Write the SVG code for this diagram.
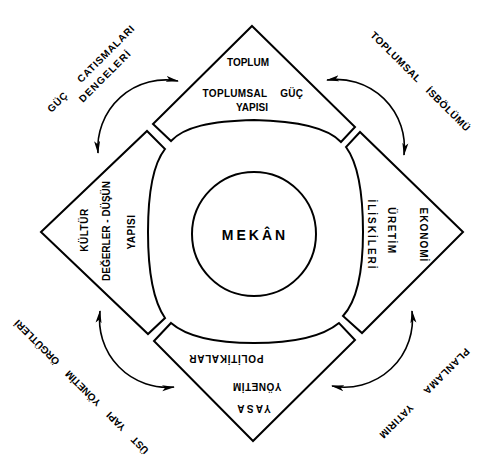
<svg xmlns="http://www.w3.org/2000/svg" width="478" height="464" viewBox="0 0 478 464">
<style>
.shape{fill:none;stroke:#000;stroke-width:2;stroke-linejoin:miter}
.arr{fill:none;stroke:#000;stroke-width:1.6;marker-start:url(#ah);marker-end:url(#ah)}
text{font-family:"Liberation Sans",Arial,sans-serif;fill:#000;font-size:10px;font-weight:bold;text-anchor:middle}
.corner{font-size:10px}
.center{font-size:14px;letter-spacing:3px}
</style>
<defs>
<marker id="ah" viewBox="0 0 13 7" refX="12" refY="3.5" markerWidth="13" markerHeight="7" markerUnits="userSpaceOnUse" orient="auto-start-reverse">
<path d="M0,0.5 L13,3.5 L0,6.5 L3,3.5 Z" fill="#000"/>
</marker>
</defs>
<rect width="478" height="464" fill="#fff"/>

<g id="top-node">
<path class="shape" d="M252,26 L355,127 L341,142 C328,128 300,121 254,120 C210,121 184,127 171,141 L153,124 Z"/>
<text x="248" y="66">TOPLUM</text>
<text x="253" y="97" letter-spacing="0.3" word-spacing="10">TOPLUMSAL GÜÇ</text>
<text x="252" y="111">YAPISI</text>
</g>

<g id="left-node">
<path class="shape" d="M41,232 L147,131 L165,149 C154,163 148,190 148,232 C148,274 154,302 165,318 L148,334 Z"/>
<text transform="translate(88,230) rotate(-90)" letter-spacing="0.5">KÜLTÜR</text>
<text transform="translate(110,231) rotate(-90)">DEĞERLER - DÜŞÜN</text>
<text transform="translate(135,232) rotate(-90)" letter-spacing="0.5">YAPISI</text>
</g>

<g id="right-node">
<path class="shape" d="M463,232 L360,132 L346,147 C357,162 363,190 363,232 C363,274 356,302 343,316 L362,333 Z"/>
<text transform="translate(420,235) rotate(90)" letter-spacing="1">EKONOMİ</text>
<text transform="translate(388,231) rotate(90)" letter-spacing="1.5">ÜRETİM</text>
<text transform="translate(368,235) rotate(90)" letter-spacing="2">İLİSKİLERİ</text>
</g>

<g id="bottom-node">
<path class="shape" d="M253,441 L154,341 L171,323 C186,336 215,343 254,343 C292,343 322,337 339,323 L355,340 Z"/>
<text transform="translate(226,355) rotate(180)" letter-spacing="0.7">POLİTİKALAR</text>
<text transform="translate(257,383) rotate(180)" letter-spacing="0.5">YÖNETİM</text>
<text transform="translate(253,405) rotate(180)" letter-spacing="2.2">YASA</text>
</g>

<g id="center-node">
<circle class="shape" cx="254" cy="234" r="62"/>
<text class="center" x="255" y="240">MEKÂN</text>
</g>

<g id="connectors">
<path class="arr" d="M178,81 A68,68 0 0 0 98,153"/>
<path class="arr" d="M327,80 A68,68 0 0 1 404,155"/>
<path class="arr" d="M100,311 A68,68 0 0 0 174,387"/>
<path class="arr" d="M412,311 A68,68 0 0 1 332,386"/>
</g>

<g id="labels">
<text class="corner" transform="translate(93.5,71) rotate(-45)" letter-spacing="0.8" word-spacing="14">GÜÇ CATISMALARI</text>
<text class="corner" transform="translate(107.5,78.5) rotate(-45)" letter-spacing="1.2">DENGELERİ</text>
<text class="corner" transform="translate(418,84) rotate(45)" letter-spacing="0.6" word-spacing="8">TOPLUMSAL İSBÖLÜMÜ</text>
<text class="corner" transform="translate(84,384.5) rotate(-135)" word-spacing="10">ÜST YAPI YÖNETİM ÖRGÜTLERİ</text>
<text class="corner" transform="translate(422,391) rotate(135)" letter-spacing="0.6" word-spacing="16">PLANLAMA YATIRIM</text>
</g>
</svg>
